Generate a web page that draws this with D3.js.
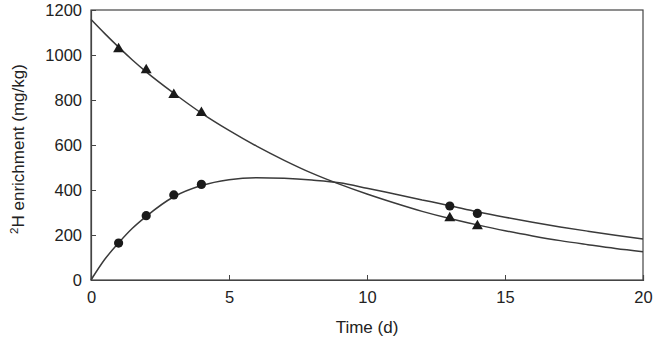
<!DOCTYPE html>
<html>
<head>
<meta charset="utf-8">
<script src="https://cdn.jsdelivr.net/npm/d3@7"></script>
<style>
  body { margin: 0; background: #fff; }
  text { font-family: "Liberation Sans", Arial, sans-serif; fill: #222; }
</style>
</head>
<body>
<div id="chart"></div>
<script>
const width = 654;
const height = 337;

// fitted curves
const curveTimes = [0, 0.5, 1, 1.5, 2, 3, 4, 5, 6, 7, 8, 9, 10, 11, 12, 13, 14, 15, 16, 17, 18, 19, 20];
const fallingCurve = [1158, 1095, 1035, 978, 925, 830, 742, 665, 595, 532, 475, 426, 382, 342, 305, 273, 245, 219, 196, 175, 157, 140, 126];
const risingCurve = [0, 92, 165, 230, 283, 370, 420, 446, 455, 452, 444, 432, 408, 382, 356, 330, 303, 279, 257, 236, 217, 199, 182];

// measured points
const triangleTimes = [1, 2, 3, 4, 13, 14];
const triangleValues = [1022, 928, 819, 739, 271, 235];
const circleTimes = [1, 2, 3, 4, 13, 14];
const circleValues = [164, 286, 378, 425, 329, 296];

const xTicks = [0, 5, 10, 15, 20];
const yTicks = [0, 200, 400, 600, 800, 1000, 1200];

const margin = {top: 10, right: 11, bottom: 57, left: 91};

const svg = d3.select("#chart").append("svg")
    .attr("width", width)
    .attr("height", height);

const x = d3.scaleLinear().domain([0, 20]).range([margin.left, width - margin.right]);
const y = d3.scaleLinear().domain([0, 1200]).range([height - margin.bottom, margin.top]);

// frame
svg.append("rect")
    .attr("x", x(0)).attr("y", y(1200))
    .attr("width", x(20) - x(0)).attr("height", y(0) - y(1200))
    .attr("fill", "none").attr("stroke", "#444").attr("stroke-width", 1.2);

// axes with inward ticks
const xAxis = svg.append("g")
    .attr("transform", `translate(0,${y(0)})`)
    .call(d3.axisBottom(x).tickValues(xTicks).tickSize(-5).tickPadding(11).tickFormat(d3.format("d")));
const yAxis = svg.append("g")
    .attr("transform", `translate(${x(0)},0)`)
    .call(d3.axisLeft(y).tickValues(yTicks).tickSize(-5).tickPadding(9).tickFormat(d3.format("d")));

[xAxis, yAxis].forEach(g => {
    g.select(".domain").attr("stroke", "#444").attr("stroke-width", 1.2);
    g.selectAll(".tick line").attr("stroke", "#444");
    g.selectAll(".tick text").attr("font-size", 16.5).attr("font-family", "Liberation Sans, Arial, sans-serif").attr("fill", "#222");
});

// curves
const line = d3.line()
    .x((d, i) => x(curveTimes[i]))
    .y(d => y(d))
    .curve(d3.curveMonotoneX);

[fallingCurve, risingCurve].forEach(series => {
    svg.append("path")
        .attr("d", line(series))
        .attr("fill", "none")
        .attr("stroke", "#3a3a3a")
        .attr("stroke-width", 1.5);
});

// markers
const tri = d3.symbol().type(d3.symbolTriangle).size(52);
svg.append("g").selectAll("path")
    .data(triangleValues)
    .enter()
    .append("path")
    .attr("d", tri)
    .attr("transform", (d, i) => `translate(${x(triangleTimes[i])},${y(d) - 1})`)
    .attr("fill", "#1a1a1a");

svg.append("g").selectAll("circle")
    .data(circleValues)
    .enter()
    .append("circle")
    .attr("cx", (d, i) => x(circleTimes[i]))
    .attr("cy", d => y(d))
    .attr("r", 4.6)
    .attr("fill", "#1a1a1a");

// axis titles
svg.append("text")
    .attr("x", (x(0) + x(20)) / 2)
    .attr("y", 333)
    .attr("text-anchor", "middle")
    .attr("font-size", 17)
    .text("Time (d)");

const yTitle = svg.append("text")
    .attr("transform", `translate(24,${(y(0) + y(1200)) / 2 + 4}) rotate(-90)`)
    .attr("text-anchor", "middle")
    .attr("font-size", 17);
yTitle.append("tspan").attr("font-size", 11.5).attr("dy", -6).text("2");
yTitle.append("tspan").attr("dy", 6).text("H enrichment (mg/kg)");
</script>
</body>
</html>
